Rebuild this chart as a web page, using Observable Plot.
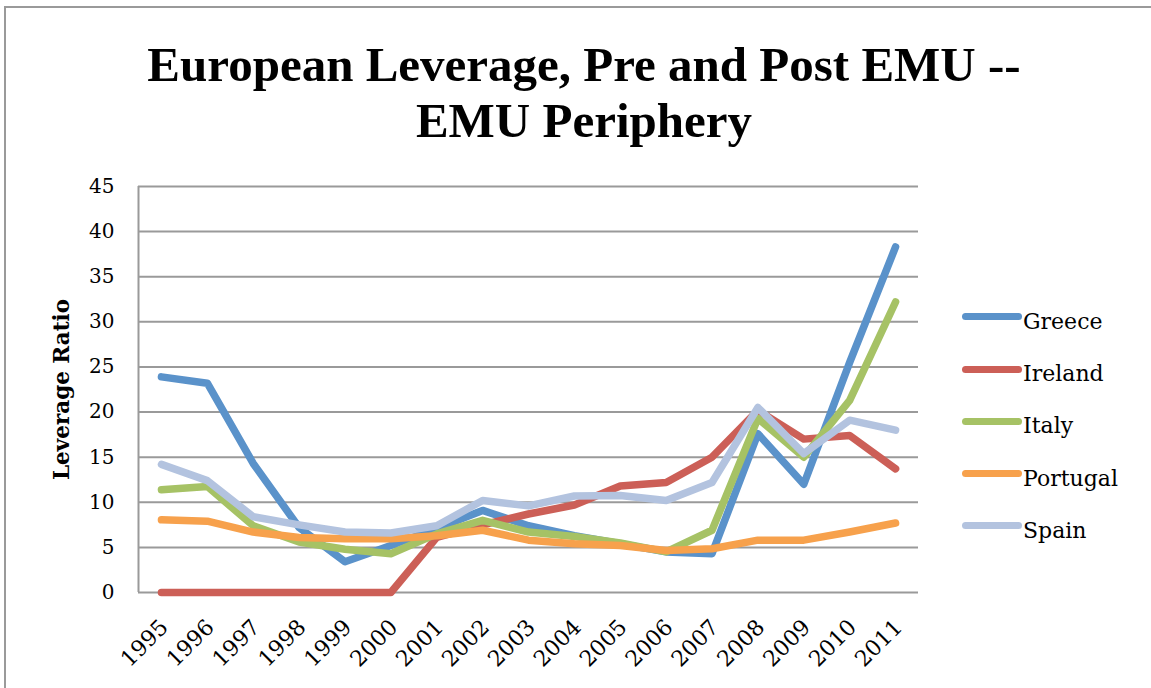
<!DOCTYPE html>
<html>
<head>
<meta charset="utf-8">
<script src="https://cdn.jsdelivr.net/npm/d3@7"></script>
<script src="https://cdn.jsdelivr.net/npm/@observablehq/plot@0.6"></script>
<style>
  body { margin: 0; background: #fff; }
  #wrap { position: relative; width: 1151px; height: 688px; overflow: hidden; background: #fff; }
  #frame { position: absolute; left: 4px; top: 6px; width: 1200px; height: 800px; border: 2px solid #9a9a9a; }
  #title { position: absolute; left: 84px; width: 1000px; top: 37px; text-align: center;
           font-family: "Liberation Serif", serif; font-weight: bold; font-size: 49px; line-height: 56px; color: #000; }
  #chart { position: absolute; left: 0; top: 160px; }
  .sw { position: absolute; left: 962px; width: 60px; height: 7px; border-radius: 4px; }
  .lt { position: absolute; left: 1023px; font-family: "DejaVu Serif", serif; font-size: 22px; line-height: 26px; color: #000; white-space: nowrap; }
</style>
</head>
<body>
<div id="wrap">
  <div id="frame"></div>
  <div id="title">European Leverage, Pre and Post EMU --<br>EMU Periphery</div>
  <div id="chart"></div>
  <div id="legend"></div>
</div>
<script>
const years = [1995,1996,1997,1998,1999,2000,2001,2002,2003,2004,2005,2006,2007,2008,2009,2010,2011];
const countries = ["Greece","Ireland","Italy","Portugal","Spain"];
const colors = ["#5A92CA","#CC5F57","#A6C265","#F7A14C","#B3C3DF"];
const greece   = [23.9,23.2,14.3,7.2,3.4,5.2,7.1,9.1,7.4,6.3,5.4,4.5,4.3,17.6,12.0,25.5,38.3];
const ireland  = [0,0,0,0,0,0,6.1,7.5,8.7,9.7,11.8,12.2,15.0,20.2,17.0,17.4,13.7];
const italy    = [11.4,11.75,7.4,5.6,4.8,4.3,6.5,8.0,6.7,6.2,5.5,4.5,6.9,19.3,15.0,21.3,32.2];
const portugal = [8.05,7.9,6.7,6.1,5.95,5.95,6.3,6.9,5.8,5.4,5.2,4.65,4.85,5.8,5.8,6.7,7.7];
const spain    = [14.2,12.4,8.4,7.5,6.7,6.6,7.4,10.2,9.6,10.7,10.75,10.2,12.2,20.5,15.4,19.1,18.0];
const yTicks = [0,5,10,15,20,25,30,35,40,45];
const yLabel = "Leverage Ratio";

const seriesValues = [greece, ireland, italy, portugal, spain];
const data = countries.flatMap((c, i) => years.map((yr, j) => ({country: c, year: yr, value: seriesValues[i][j]})));

const chart = Plot.plot({
  width: 1151,
  height: 528,
  marginTop: 26,
  marginBottom: 96,
  marginLeft: 138,
  marginRight: 233,
  style: {fontFamily: "DejaVu Serif", fontSize: "20px", color: "#000", background: "transparent", overflow: "visible"},
  x: {type: "linear", domain: [years[0] - 0.5, years[years.length - 1] + 0.5]},
  y: {domain: [0, 45]},
  color: {domain: countries, range: colors},
  marks: [
    Plot.ruleY(yTicks, {stroke: "#9a9a9a", strokeWidth: 2, strokeOpacity: 1}),
    Plot.ruleX([years[0] - 0.5], {y1: 0, y2: 45, stroke: "#9a9a9a", strokeWidth: 2, strokeOpacity: 1}),
    Plot.axisY({ticks: yTicks, tickSize: 0, tickPadding: 24, label: null, fontSize: 20}),
    Plot.axisX({ticks: years, tickFormat: d => String(d), tickSize: 0, tickPadding: 31, dx: 3, tickRotate: -45, label: null, fontSize: 22}),
    Plot.line(data, {x: "year", y: "value", z: "country", stroke: "country", strokeWidth: 7.5, strokeLinecap: "round", strokeLinejoin: "round"}),
    Plot.text([yLabel], {text: d => d, frameAnchor: "left", textAnchor: "middle", dx: -76, rotate: -90, fontWeight: "bold", fontSize: 21.5, fill: "#000"})
  ]
});
document.getElementById("chart").appendChild(chart);

const legend = document.getElementById("legend");
countries.forEach((c, i) => {
  const cy = 316.7 + 52.3 * i;
  const sw = document.createElement("div");
  sw.className = "sw";
  sw.style.top = (cy - 3.5) + "px";
  sw.style.background = colors[i];
  legend.appendChild(sw);
  const t = document.createElement("div");
  t.className = "lt";
  t.style.top = (cy - 8) + "px";
  t.textContent = c;
  legend.appendChild(t);
});
</script>
</body>
</html>
